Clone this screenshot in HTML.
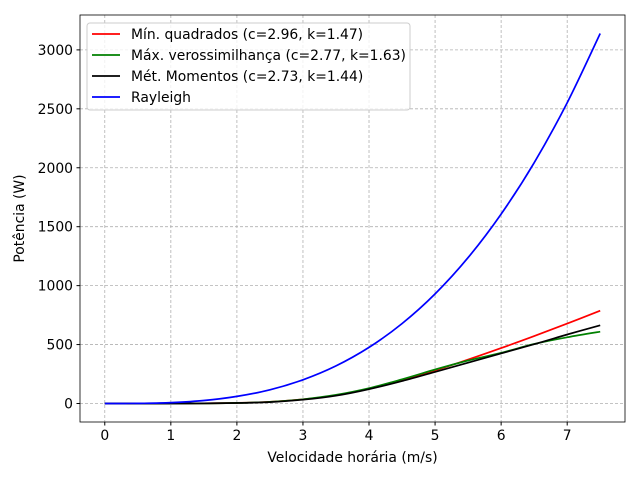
<!DOCTYPE html>
<html><head><meta charset="utf-8"><style>
body{margin:0;background:#fff;font-family:"Liberation Sans","DejaVu Sans",sans-serif}
</style></head><body>
<svg id="chart" width="640" height="480" xmlns="http://www.w3.org/2000/svg" font-family="DejaVu Sans, Liberation Sans, sans-serif"></svg>
<script>
const xs=[0,0.5,1,1.5,2,2.5,3,3.5,4,4.5,5,5.5,6,6.5,7,7.5];
const red=[0,0,0.3,1.5,5,14,35,70,125,195,280,372,470,572,678,787];
const green=[0,0,0.2,1.2,5,14,36,73,130,205,288,365,430,505,562,609];
const black=[0,0,0.2,1,4,12,32,66,121,190,268,346,425,503,585,663];
const rayleigh=[0,0.93,7.4,25,60,116,201,319,476,678,930,1238,1607,2043,2552,3139];
const xTicks=[0,1,2,3,4,5,6,7];
const yTicks=[0,500,1000,1500,2000,2500,3000];
const legendLabels=["Mín. quadrados (c=2.96, k=1.47)","Máx. verossimilhança (c=2.77, k=1.63)","Mét. Momentos (c=2.73, k=1.44)","Rayleigh"];
const L=80,R=625,T=15,B=422,xmin=-0.375,xmax=7.875,ymin=-157,ymax=3296;
const FS=13.9;
const sx=v=>L+(v-xmin)/(xmax-xmin)*(R-L);
const sy=v=>B-(v-ymin)/(ymax-ymin)*(B-T);
const svg=document.getElementById('chart');const NS='http://www.w3.org/2000/svg';
function mk(t,a,p){const e=document.createElementNS(NS,t);for(const k in a)e.setAttribute(k,a[k]);(p||svg).appendChild(e);return e;}
function smooth(pts){let d='M'+pts[0][0].toFixed(1)+','+pts[0][1].toFixed(1);
for(let i=0;i<pts.length-1;i++){const p0=pts[Math.max(0,i-1)],p1=pts[i],p2=pts[i+1],p3=pts[Math.min(pts.length-1,i+2)];
const c1=[p1[0]+(p2[0]-p0[0])/6,p1[1]+(p2[1]-p0[1])/6],c2=[p2[0]-(p3[0]-p1[0])/6,p2[1]-(p3[1]-p1[1])/6];
d+=`C${c1[0].toFixed(1)},${c1[1].toFixed(1)} ${c2[0].toFixed(1)},${c2[1].toFixed(1)} ${p2[0].toFixed(1)},${p2[1].toFixed(1)}`;}return d;}
xTicks.forEach(t=>{const g=mk('line',{x1:sx(t),x2:sx(t),y1:T,y2:B,stroke:'#b0b0b0','stroke-width':0.8,'stroke-dasharray':'3,2'});

const k=mk('line',{x1:sx(t),x2:sx(t),y1:B,y2:B+3.5,stroke:'#000'});
const l=mk('text',{x:sx(t),y:B+18,'text-anchor':'middle','font-size':FS});l.textContent=t;});
yTicks.forEach(t=>{const g=mk('line',{x1:L,x2:R,y1:sy(t),y2:sy(t),stroke:'#b0b0b0','stroke-width':0.8,'stroke-dasharray':'3,2'});

const k=mk('line',{x1:L-3.5,x2:L,y1:sy(t),y2:sy(t),stroke:'#000'});
const l=mk('text',{x:L-7,y:sy(t)+5,'text-anchor':'end','font-size':FS});l.textContent=t;});
const series=[[red,'#ff0000','red-line'],[green,'#008000','green-line'],[black,'#000000','black-line'],[rayleigh,'#0000ff','rayleigh-line']];
series.forEach(s=>{const pts=xs.map((x,i)=>[sx(x),sy(s[0][i])]);
const p=mk('path',{d:smooth(pts),fill:'none',stroke:s[1],'stroke-width':1.7});});
const f=mk('rect',{x:L,y:T,width:R-L,height:B-T,fill:'none',stroke:'#000','stroke-width':0.8});
const xt=mk('text',{x:(L+R)/2,y:462,'text-anchor':'middle','font-size':FS});xt.textContent='Velocidade horária (m/s)';
const yt=mk('text',{x:24,y:(T+B)/2,'text-anchor':'middle','font-size':FS,transform:`rotate(-90 24 ${(T+B)/2})`});yt.textContent='Potência (W)';
const lg=mk('g',{});
mk('rect',{x:87,y:23,width:323,height:87,rx:3,fill:'#fff','fill-opacity':0.8,stroke:'#ccc'},lg);
legendLabels.forEach((lab,i)=>{const y=34+i*21;
const ln=mk('line',{x1:92,x2:120,y1:y,y2:y,stroke:series[i][1],'stroke-width':1.7},lg);
const t=mk('text',{x:131,y:y+5,'font-size':FS},lg);t.textContent=lab;});
</script>
</body></html>
